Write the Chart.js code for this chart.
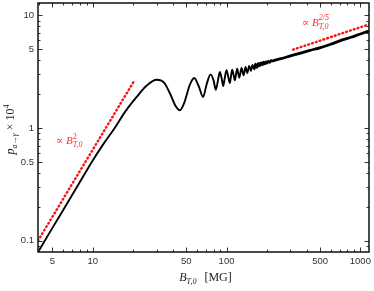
<!DOCTYPE html>
<html><head><meta charset="utf-8">
<script src="https://cdn.jsdelivr.net/npm/chart.js@4.4.0/dist/chart.umd.min.js"></script>
<style>html,body{margin:0;padding:0;background:#fff}#wrap{width:374px;height:291px}</style>
</head><body><div id="wrap"><canvas id="c" width="374" height="291"></canvas></div>
<script>
// B_{T,0} in MG
const bField = [3.8, 5, 6.5, 8, 10, 12, 14.6, 17.5, 21.3, 25, 30, 34, 38, 41.5, 44.8, 48.5, 53, 57.3, 62, 66.8,
  71, 76, 80, 83.2, 86, 89.1, 92, 94.4, 97, 100, 103, 105.9, 108, 110.2, 113, 115.4, 117.7, 120, 124.5, 129.4,
  134, 138.7, 143, 147.6, 152, 156.3, 160.5, 164.8, 169, 173, 177, 181, 185, 189, 193, 197, 201, 205,
  210, 215, 222, 230, 250, 300, 352, 420, 497, 600, 701, 850, 1000, 1170];
// p_{a->gamma} x 10^4
const prob = [0.075, 0.13, 0.218, 0.33, 0.515, 0.72, 1.0, 1.4, 1.89, 2.35, 2.69, 2.55, 2.0, 1.58, 1.44, 1.7, 2.4, 2.78, 2.35, 1.89,
  2.45, 3.0, 2.65, 2.19, 2.6, 3.15, 2.75, 2.36, 2.8, 3.26, 2.85, 2.51, 2.9, 3.30, 2.95, 2.65, 3.0, 3.37, 2.80, 3.42,
  2.94, 3.49, 3.08, 3.57, 3.22, 3.63, 3.34, 3.70, 3.46, 3.75, 3.58, 3.80, 3.65, 3.84, 3.72, 3.87, 3.78, 3.91,
  3.84, 3.96, 3.95, 4.01, 4.11, 4.37, 4.61, 4.90, 5.16, 5.55, 5.95, 6.40, 6.85, 7.30];
// scaling guides
const lowFitB = [3.9, 20.1];
const lowFitP = [0.1, 2.55];
const highFitB = [314, 1170];
const highFitP = [4.98, 8.35];

const xMajorTicks = [5, 10, 50, 100, 500, 1000];
const xMinorTicks = [4, 6, 7, 8, 9, 20, 30, 40, 60, 70, 80, 90, 200, 300, 400, 600, 700, 800, 900];
const yMajorTicks = [0.1, 0.5, 1, 5, 10];
const yMinorTicks = [0.09, 0.2, 0.3, 0.4, 0.6, 0.7, 0.8, 0.9, 2, 3, 4, 6, 7, 8, 9];

const toXY = (xs, ys) => xs.map((v, i) => ({x: v, y: ys[i]}));

function drawParts(ctx, parts, x, y) {
  let cx = x;
  for (let i = 0; i < parts.length; i++) {
    const p = parts[i];
    ctx.font = p.font;
    ctx.fillText(p.t, cx, y + (p.dy || 0));
    let w = ctx.measureText(p.t).width;
    if (p.stack && parts[i + 1]) {
      const q = parts[i + 1];
      ctx.font = q.font;
      ctx.fillText(q.t, cx, y + (q.dy || 0));
      w = Math.max(w, ctx.measureText(q.t).width);
      i++;
    }
    cx += w + (p.gap || 0);
  }
  return cx - x;
}
function measureParts(ctx, parts) {
  let w = 0;
  for (let i = 0; i < parts.length; i++) {
    const p = parts[i];
    ctx.font = p.font;
    let ww = ctx.measureText(p.t).width;
    if (p.stack && parts[i + 1]) { ctx.font = parts[i + 1].font; ww = Math.max(ww, ctx.measureText(parts[i + 1].t).width); i++; }
    w += ww + (p.gap || 0);
  }
  return w;
}

const SERIF = '"Liberation Serif", "DejaVu Serif", serif';

const framePlugin = {
  id: 'frame',
  afterDraw(chart) {
    const {ctx, chartArea: a, scales: {x, y}} = chart;
    ctx.save();
    ctx.strokeStyle = '#333';
    ctx.lineWidth = 1;
    const xt = (vals, len) => vals.forEach(v => {
      const px = Math.round(x.getPixelForValue(v)) + 0.5;
      if (px < a.left || px > a.right) return;
      ctx.beginPath();
      ctx.moveTo(px, a.bottom); ctx.lineTo(px, a.bottom - len);
      ctx.moveTo(px, a.top); ctx.lineTo(px, a.top + len);
      ctx.stroke();
    });
    const yt = (vals, len) => vals.forEach(v => {
      const py = Math.round(y.getPixelForValue(v)) + 0.5;
      if (py < a.top || py > a.bottom) return;
      ctx.beginPath();
      ctx.moveTo(a.left, py); ctx.lineTo(a.left + len, py);
      ctx.moveTo(a.right, py); ctx.lineTo(a.right - len, py);
      ctx.stroke();
    });
    xt(xMajorTicks, 4.5); xt(xMinorTicks, 2.5);
    yt(yMajorTicks, 4.5); yt(yMinorTicks, 2.5);
    ctx.strokeStyle = '#111';
    ctx.lineWidth = 1.5;
    ctx.strokeRect(a.left, a.top, a.right - a.left, a.bottom - a.top);

    ctx.fillStyle = '#222';
    ctx.textBaseline = 'alphabetic';
    const xParts = [
      {t: 'B', font: 'italic 12px ' + SERIF},
      {t: 'T,0', font: 'italic 8px ' + SERIF, dy: 3, gap: 8},
      {t: '[MG]', font: '12px ' + SERIF}
    ];
    const xw = measureParts(ctx, xParts);
    drawParts(ctx, xParts, (a.left + a.right) / 2 - xw / 2 + 2, 281);

    const yParts = [
      {t: 'p', font: 'italic 12px ' + SERIF},
      {t: 'a\u2192\u03B3', font: 'italic 8px ' + SERIF, dy: 3, gap: 3},
      {t: '\u00D7 10', font: '12px ' + SERIF},
      {t: '4', font: '8px ' + SERIF, dy: -5}
    ];
    const yw = measureParts(ctx, yParts);
    ctx.save();
    ctx.translate(13.5, (a.top + a.bottom) / 2 + 2);
    ctx.rotate(-Math.PI / 2);
    drawParts(ctx, yParts, -yw / 2, 0);
    ctx.restore();

    ctx.fillStyle = 'rgb(255,45,45)';
    const l1 = [
      {t: '\u221D ', font: '11px ' + SERIF},
      {t: 'B', font: 'italic 11px ' + SERIF},
      {t: '2', font: '8px ' + SERIF, dy: -5, stack: true},
      {t: 'T,0', font: 'italic 8px ' + SERIF, dy: 3.5}
    ];
    drawParts(ctx, l1, x.getPixelForValue(5.3), y.getPixelForValue(0.727));
    const l2 = [
      {t: '\u221D ', font: '11px ' + SERIF},
      {t: 'B', font: 'italic 11px ' + SERIF},
      {t: '2/5', font: 'italic 8px ' + SERIF, dy: -5.5, stack: true},
      {t: 'T,0', font: 'italic 8px ' + SERIF, dy: 3.5}
    ];
    drawParts(ctx, l2, x.getPixelForValue(365), y.getPixelForValue(8.07));
    ctx.restore();
  }
};

Chart.defaults.font.family = '"Liberation Sans", Arial, sans-serif';
Chart.defaults.font.size = 9.5;
Chart.defaults.color = '#333';

new Chart(document.getElementById('c'), {
  type: 'scatter',
  data: {
    datasets: [
      {
        data: toXY(bField, prob), showLine: true, pointRadius: 0,
        borderColor: '#000', borderWidth: 1.9, cubicInterpolationMode: 'monotone',
        segment: {borderWidth: c => (c.p0.parsed.x >= 160 ? 2.8 : 1.9)}
      },
      {
        data: toXY(lowFitB, lowFitP), showLine: true, pointRadius: 0,
        borderColor: '#ff1010', borderWidth: 2.4, borderDash: [0.8, 3.2], borderCapStyle: 'round'
      },
      {
        data: toXY(highFitB, highFitP), showLine: true, pointRadius: 0,
        borderColor: '#ff1010', borderWidth: 2.4, borderDash: [0.8, 3.2], borderCapStyle: 'round'
      }
    ]
  },
  options: {
    responsive: false, animation: false, devicePixelRatio: 1,
    layout: {padding: {top: 3, right: 5, left: 0, bottom: 0}},
    plugins: {legend: {display: false}, tooltip: {enabled: false}},
    scales: {
      x: {
        type: 'logarithmic', min: 3.9, max: 1160,
        grid: {display: false, drawTicks: false}, border: {display: false},
        afterBuildTicks: s => { s.ticks = xMajorTicks.map(v => ({value: v})); },
        afterFit: s => { s.height = 39; s.paddingLeft = 0; s.paddingRight = 0; },
        ticks: {padding: 4, maxRotation: 0, autoSkip: false, callback: v => String(v)}
      },
      y: {
        type: 'logarithmic', min: 0.0794, max: 12.9,
        grid: {display: false, drawTicks: false}, border: {display: false},
        afterBuildTicks: s => { s.ticks = yMajorTicks.map(v => ({value: v})); },
        afterFit: s => { s.width = 38; s.paddingTop = 0; s.paddingBottom = 0; },
        ticks: {padding: 4, autoSkip: false, callback: v => String(v)}
      }
    }
  },
  plugins: [framePlugin]
});
</script>
</body></html>
